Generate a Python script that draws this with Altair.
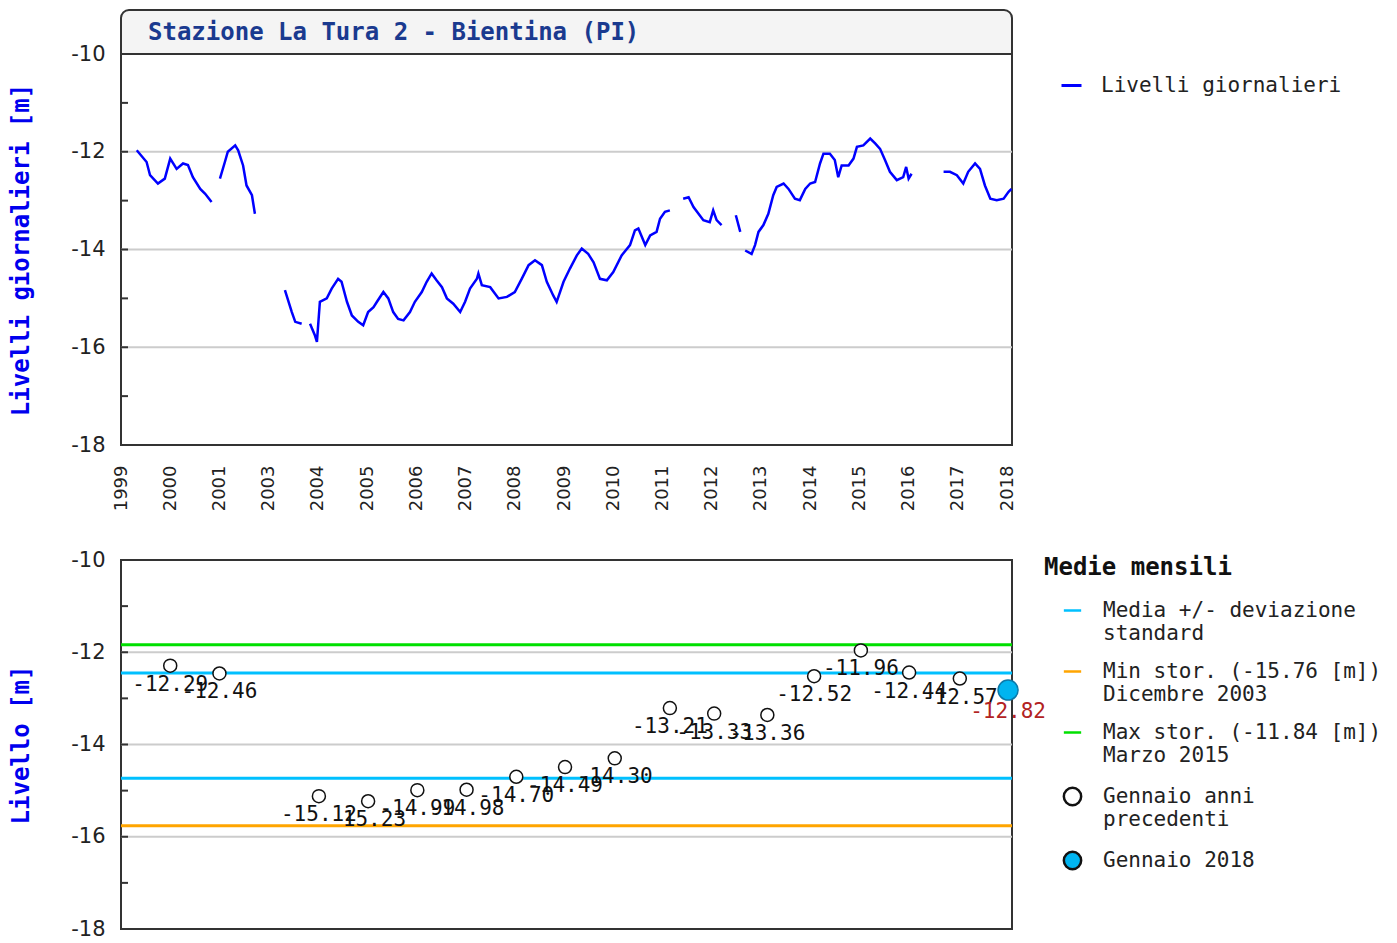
import json
import altair as alt
import pandas as pd

# ---------------- data ----------------
TITOLO = "Stazione La Tura 2 - Bientina (PI)"
ETICHETTE_ANNI = ["1999", "2000", "2001", "2003", "2004", "2005", "2006", "2007", "2008",
                  "2009", "2010", "2011", "2012", "2013", "2014", "2015", "2016", "2017", "2018"]
SERIE = "Livelli giornalieri"

# daily levels, one list per continuous stretch (x = position on the year axis)
SEG_POS = [
    [0.32, 0.52, 0.59, 0.75, 0.89, 1.00, 1.13, 1.26, 1.36, 1.46, 1.61, 1.71, 1.84],
    [2.01, 2.11, 2.17, 2.32, 2.38, 2.48, 2.55, 2.66, 2.72],
    [3.33, 3.47, 3.54, 3.67],
    [3.84, 3.94, 3.98, 4.01, 4.04, 4.18, 4.28, 4.41, 4.48, 4.59, 4.69, 4.82, 4.92, 5.02, 5.13,
     5.20, 5.33, 5.43, 5.53, 5.63, 5.74, 5.87, 5.97, 6.11, 6.21, 6.31, 6.41, 6.52, 6.62, 6.75,
     6.89, 6.99, 7.09, 7.23, 7.26, 7.33, 7.50, 7.67, 7.84, 8.00, 8.14, 8.28, 8.41, 8.55, 8.65,
     8.78, 8.85, 8.99, 9.12, 9.26, 9.36, 9.49, 9.60, 9.73, 9.87, 10.00, 10.17, 10.34, 10.44,
     10.51, 10.65, 10.75, 10.88, 10.95, 11.05, 11.15],
    [11.42, 11.53, 11.63, 11.83, 11.96, 12.03, 12.10, 12.20],
    [12.49, 12.58],
    [12.68, 12.81, 12.88, 12.95, 13.05, 13.15, 13.25, 13.32, 13.46, 13.56, 13.69, 13.79, 13.90,
     14.00, 14.10, 14.20, 14.27, 14.40, 14.50, 14.57, 14.64, 14.78, 14.88, 14.95, 15.08, 15.22,
     15.32, 15.42, 15.52, 15.62, 15.76, 15.89, 15.95, 16.00, 16.06],
    [16.71, 16.84, 16.98, 17.11, 17.21, 17.35, 17.45, 17.55, 17.66, 17.79, 17.93, 18.03, 18.09],
]
SEG_LIV = [
    [-11.97, -12.21, -12.48, -12.65, -12.55, -12.14, -12.35, -12.24, -12.27, -12.52, -12.76, -12.86, -13.03],
    [-12.55, -12.21, -12.00, -11.87, -11.97, -12.28, -12.69, -12.89, -13.27],
    [-14.83, -15.28, -15.48, -15.52],
    [-15.52, -15.76, -15.89, -15.48, -15.07, -15.00, -14.80, -14.60, -14.66, -15.07, -15.35, -15.48,
     -15.55, -15.28, -15.18, -15.07, -14.87, -15.00, -15.28, -15.42, -15.45, -15.28, -15.07, -14.87,
     -14.66, -14.49, -14.63, -14.77, -15.00, -15.11, -15.28, -15.07, -14.80, -14.60, -14.49, -14.73,
     -14.77, -15.00, -14.97, -14.87, -14.60, -14.32, -14.22, -14.32, -14.66, -14.94, -15.07, -14.66,
     -14.39, -14.12, -13.98, -14.09, -14.26, -14.60, -14.63, -14.46, -14.12, -13.91, -13.61, -13.57,
     -13.91, -13.71, -13.64, -13.37, -13.23, -13.20],
    [-12.96, -12.93, -13.13, -13.40, -13.44, -13.20, -13.40, -13.50],
    [-13.30, -13.64],
    [-14.02, -14.09, -13.91, -13.64, -13.50, -13.27, -12.89, -12.72, -12.65, -12.76, -12.96, -12.99,
     -12.76, -12.65, -12.62, -12.24, -12.04, -12.04, -12.17, -12.52, -12.28, -12.28, -12.14, -11.90,
     -11.87, -11.73, -11.83, -11.94, -12.17, -12.41, -12.58, -12.52, -12.31, -12.55, -12.45],
    [-12.41, -12.41, -12.48, -12.65, -12.41, -12.24, -12.35, -12.69, -12.96, -12.99, -12.96, -12.82, -12.76],
]

# January monthly means
GENNAIO_POS = [1.00, 2.00, 4.02, 5.02, 6.02, 7.02, 8.03, 9.02, 10.03, 11.15, 12.05, 13.13,
               14.08, 15.03, 16.01, 17.04]
GENNAIO_LIV = [-12.29, -12.46, -15.12, -15.23, -14.99, -14.98, -14.70, -14.49, -14.30, -13.21,
               -13.33, -13.36, -12.52, -11.96, -12.44, -12.57]
GENNAIO_2018_POS = [18.02]
GENNAIO_2018_LIV = [-12.82]

MEDIA_DEV = [-12.45, -14.73]
MIN_STOR = [-15.76]
MAX_STOR = [-11.84]

LEGENDA_VOCI = [
    "Media +/- deviazione\nstandard",
    "Min stor. (-15.76 [m])\nDicembre 2003",
    "Max stor. (-11.84 [m])\nMarzo 2015",
    "Gennaio anni\nprecedenti",
    "Gennaio 2018",
]

GRIGLIA = [-12, -14, -16]
TACCHE = [-17, -16, -15, -14, -13, -12, -11]
VALORI_Y = [-10, -12, -14, -16, -18]

# ---------------- styles ----------------
W = 891
H1 = 391
H2 = 369
C_CIANO = "#00c0ff"
C_ARANCIO = "#ffa500"
C_VERDE = "#00e000"
C_BLU = "#0000ff"
C_PUNTO = "#00b4f0"
MONO = "DejaVu Sans Mono"
SANS = "DejaVu Sans"

xs = alt.Scale(domain=[0, 18.1], nice=False, zero=False)
ys = alt.Scale(domain=[-18, -10], nice=False, zero=False)


def y_axis(title):
    return alt.Axis(values=VALORI_Y, labelExpr="'' + datum.value", ticks=False, domain=False,
                    grid=False, labelFont=SANS, labelFontSize=21, labelColor="#222",
                    labelPadding=16, title=title, titleFont=MONO, titleFontSize=24,
                    titleFontWeight="bold", titleColor="#0000ee", titlePadding=37)


YA_TOP = y_axis("Livelli giornalieri [m]")
YA_BOT = y_axis("Livello [m]")

x_axis_top = alt.Axis(values=list(range(len(ETICHETTE_ANNI))),
                      labelExpr=json.dumps(ETICHETTE_ANNI) + "[datum.value]",
                      labelAngle=-90, labelFlush=False, labelOverlap=False, ticks=False,
                      domain=False, grid=False, labelFont=SANS, labelFontSize=18,
                      labelColor="#222", labelPadding=20, title=None)

# ---------------- top chart ----------------
rows = []
for i, (ps, vs) in enumerate(zip(SEG_POS, SEG_LIV)):
    for p, v in zip(ps, vs):
        rows.append({"pos": p, "livello": v, "seg": i, "serie": SERIE})
df_line = pd.DataFrame(rows)

grid_top = alt.Chart(pd.DataFrame({"livello": GRIGLIA})).mark_rule(
    stroke="#cccccc", strokeWidth=2).encode(y=alt.Y("livello:Q", scale=ys, axis=YA_TOP))

line = alt.Chart(df_line).mark_line(strokeWidth=2.5).encode(
    x=alt.X("pos:Q", scale=xs, axis=x_axis_top),
    y=alt.Y("livello:Q", scale=ys, axis=YA_TOP),
    detail="seg:N",
    color=alt.Color("serie:N", scale=alt.Scale(domain=[SERIE], range=[C_BLU]),
                    legend=alt.Legend(title=None, orient="none", legendX=939, legendY=20,
                                      symbolType="stroke", symbolStrokeWidth=3, symbolSize=400,
                                      labelFont=MONO, labelFontSize=21, labelColor="#222",
                                      labelOffset=18, padding=0, labelLimit=500)),
)

ticks_top = alt.Chart(pd.DataFrame({"livello": TACCHE})).mark_rule(
    stroke="#333", strokeWidth=2).encode(
    y=alt.Y("livello:Q", scale=ys, axis=YA_TOP), x=alt.value(0), x2=alt.value(7))

header = alt.Chart(pd.DataFrame({"titolo": [TITOLO]})).mark_rect(
    fill="#f4f4f4", stroke="#333", strokeWidth=2,
    cornerRadiusTopLeft=8, cornerRadiusTopRight=8).encode(
    x=alt.value(0), x2=alt.value(W), y=alt.value(-44), y2=alt.value(0))

header_text = alt.Chart(pd.DataFrame({"titolo": [TITOLO]})).mark_text(
    font=MONO, fontSize=24, fontWeight="bold", color="#1a3a8f", align="left",
    baseline="middle").encode(text="titolo:N", x=alt.value(27), y=alt.value(-21))

top = alt.layer(header, header_text, grid_top, line, ticks_top).properties(width=W, height=H1)

# ---------------- bottom chart ----------------
grid_bot = alt.Chart(pd.DataFrame({"livello": GRIGLIA})).mark_rule(
    stroke="#cccccc", strokeWidth=2).encode(
    y=alt.Y("livello:Q", scale=ys, axis=YA_BOT))

media = alt.Chart(pd.DataFrame({"livello": MEDIA_DEV})).mark_rule(
    stroke=C_CIANO, strokeWidth=3).encode(y=alt.Y("livello:Q", scale=ys, axis=YA_BOT))
minimo = alt.Chart(pd.DataFrame({"livello": MIN_STOR})).mark_rule(
    stroke=C_ARANCIO, strokeWidth=3).encode(y=alt.Y("livello:Q", scale=ys, axis=YA_BOT))
massimo = alt.Chart(pd.DataFrame({"livello": MAX_STOR})).mark_rule(
    stroke=C_VERDE, strokeWidth=3).encode(y=alt.Y("livello:Q", scale=ys, axis=YA_BOT))

df_gen = pd.DataFrame({"pos": GENNAIO_POS, "livello": GENNAIO_LIV})
df_gen["etichetta"] = [f"{v:.2f}" for v in GENNAIO_LIV]
df_18 = pd.DataFrame({"pos": GENNAIO_2018_POS, "livello": GENNAIO_2018_LIV})
df_18["etichetta"] = [f"{v:.2f}" for v in GENNAIO_2018_LIV]

pts = alt.Chart(df_gen).mark_point(shape="circle", size=169, filled=True, fill="white",
                                   stroke="#111", strokeWidth=1.5, opacity=1).encode(
    x=alt.X("pos:Q", scale=xs, axis=None), y=alt.Y("livello:Q", scale=ys, axis=YA_BOT))
lbl = alt.Chart(df_gen).mark_text(font=MONO, fontSize=21, dy=19, color="#111").encode(
    x=alt.X("pos:Q", scale=xs, axis=None), y=alt.Y("livello:Q", scale=ys, axis=YA_BOT),
    text="etichetta:N")
pt18 = alt.Chart(df_18).mark_point(shape="circle", size=400, filled=True, fill=C_PUNTO,
                                   stroke="#0b78a8", strokeWidth=1.5, opacity=1).encode(
    x=alt.X("pos:Q", scale=xs, axis=None), y=alt.Y("livello:Q", scale=ys, axis=YA_BOT))
lbl18 = alt.Chart(df_18).mark_text(font=MONO, fontSize=21, dy=22, color="#b22222").encode(
    x=alt.X("pos:Q", scale=xs, axis=None), y=alt.Y("livello:Q", scale=ys, axis=YA_BOT),
    text="etichetta:N")

leg = alt.Legend(title="Medie mensili", orient="none", legendX=923, legendY=-4,
                 labelExpr="split(datum.label, '\\n')",
                 titleFont=MONO, titleFontSize=24, titleFontWeight="bold", titleColor="#111",
                 titleLimit=600,
                 labelFont=MONO, labelFontSize=21, labelColor="#222",
                 symbolSize=300, symbolStrokeWidth=2.5, symbolOffset=18, labelOffset=20,
                 rowPadding=16, titlePadding=20, padding=0, labelLimit=500, symbolOpacity=1)
df_leg = pd.DataFrame({"voce": LEGENDA_VOCI})
legend_layer = alt.Chart(df_leg).mark_point(opacity=0).encode(
    shape=alt.Shape("voce:N", scale=alt.Scale(domain=LEGENDA_VOCI,
                    range=["stroke", "stroke", "stroke", "circle", "circle"]), legend=leg),
    fill=alt.Fill("voce:N", scale=alt.Scale(domain=LEGENDA_VOCI,
                  range=["transparent", "transparent", "transparent", "white", C_PUNTO]), legend=leg),
    stroke=alt.Stroke("voce:N", scale=alt.Scale(domain=LEGENDA_VOCI,
                      range=[C_CIANO, C_ARANCIO, C_VERDE, "#111", "#111"]), legend=leg),
)

ticks_bot = alt.Chart(pd.DataFrame({"livello": TACCHE})).mark_rule(
    stroke="#333", strokeWidth=2).encode(
    y=alt.Y("livello:Q", scale=ys, axis=YA_BOT), x=alt.value(0), x2=alt.value(7))

bottom = alt.layer(grid_bot, media, minimo, massimo, pts, lbl, pt18, lbl18, legend_layer,
                   ticks_bot).properties(width=W, height=H2)

chart = alt.vconcat(top, bottom, spacing=36).resolve_scale(
    color="independent", fill="independent", stroke="independent", shape="independent"
).resolve_legend(
    color="independent", fill="independent", stroke="independent", shape="independent"
).properties(padding=0, background="white").configure_view(
    stroke="#333", strokeWidth=2)

chart.save("out.html", embed_options={"renderer": "svg", "actions": False})
